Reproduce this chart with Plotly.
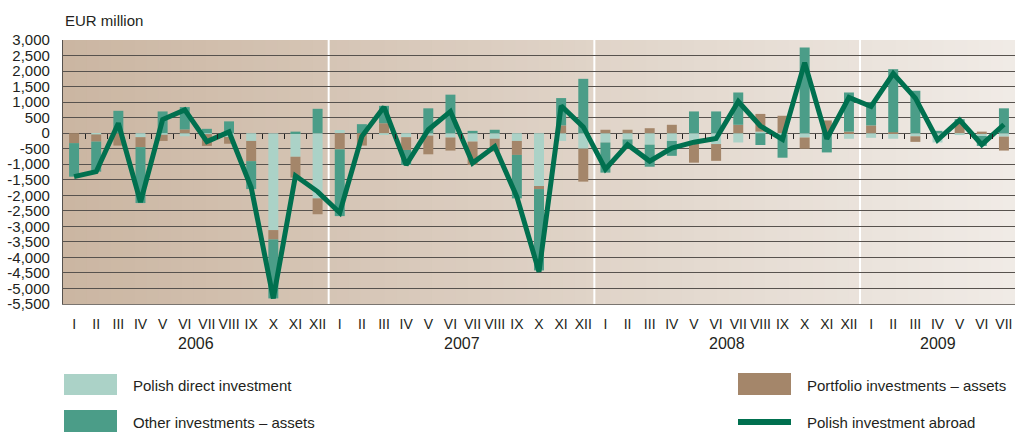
import plotly.graph_objects as go

# ---------------- data (EUR million) ----------------
months = ["I", "II", "III", "IV", "V", "VI", "VII", "VIII", "IX", "X", "XI", "XII"] * 3 + \
         ["I", "II", "III", "IV", "V", "VI", "VII"]
years = ["2006", "2007", "2008", "2009"]
year_center_idx = [5.5, 17.5, 29.5, 39]

direct = [0, -40, 0, -130, -50, -100, -30, -120, -250, -3120, -760, -2100,
          100, 0, -60, -130, -80, -140, -270, -180, -250, -1700, -250, -500,
          -300, -200, -370, -250, -250, -350, -300, 50, -50, -140, 0, -180,
          -150, -180, -100, -300, -60, -90, -110]
portfolio = [-320, -230, -400, -320, -200, 120, -380, -220, -650, -300, -670, -510,
             -520, -400, 320, -410, -600, -420, -750, -410, -450, -100, 250, -1060,
             110, 110, 160, 270, -700, -540, 270, 570, 560, -360, 410, 50,
             250, 30, -180, 0, 330, 50, -450]
other = [-1080, -970, 720, -1800, 700, 720, 140, 380, -900, -1900, 50, 785,
         -2150, 290, 560, -480, 800, 1240, 75, 110, -1400, -2620, 880, 1750,
         -970, -250, -710, -480, 700, 700, 1040, -380, -740, 2760, -620, 1260,
         740, 2030, 1365, 75, 120, -320, 800]
abroad = [-1400, -1240, 320, -2220, 440, 750, -270, 40, -1750, -5320, -1370, -1880,
          -2560, -100, 840, -1020, 110, 700, -960, -430, -2050, -4460, 880, 200,
          -1160, -370, -900, -480, -290, -170, 1020, 230, -200, 2270, -180, 1150,
          860, 1920, 1130, -220, 420, -370, 280]

y_tickvals = [3000, 2500, 2000, 1500, 1000, 500, 0, -500, -1000, -1500, -2000, -2500,
              -3000, -3500, -4000, -4500, -5000, -5500]
y_ticktext = ["3,000", "2,500", "2,000", "1,500", "1,000", "500", "0", "-500", "-1,000",
              "-1,500", "-2,000", "-2,500", "-3,000", "-3,500", "-4,000", "-4,500",
              "-5,000", "-5,500"]
year_bounds = [11.5, 23.5, 35.5]

# ---------------- style ----------------
C_DIRECT = "#abd2c7"
C_PORT = "#a4866a"
C_OTHER = "#4b9d88"
C_LINE = "#00704f"
FONT = "Liberation Sans, Arial, sans-serif"
TXT = "#231f20"

n = len(months)
xs = list(range(n))

fig = go.Figure()
fig.add_trace(go.Bar(x=xs, y=direct, name="Polish direct investment",
                     marker=dict(color=C_DIRECT, line=dict(width=0)), width=0.45))
fig.add_trace(go.Bar(x=xs, y=portfolio, name="Portfolio investments – assets",
                     marker=dict(color=C_PORT, line=dict(width=0)), width=0.45))
fig.add_trace(go.Bar(x=xs, y=other, name="Other investments – assets",
                     marker=dict(color=C_OTHER, line=dict(width=0)), width=0.45))
fig.add_trace(go.Scatter(x=xs, y=abroad, name="Polish investment abroad", mode="lines",
                         line=dict(color=C_LINE, width=5), xaxis="x2"))

W, H = 1015, 432
ML, MR, MT, MB = 63, 0, 40, 128
pw, ph = W - ML - MR, H - MT - MB


def px(xp):
    return (xp - ML) / pw


def py(yp):
    return (H - MB - yp) / ph


shapes = []
# background gradient (plot area)
NS = 80
c0 = (203, 182, 162)
c1 = (240, 235, 230)
for i in range(NS):
    t = i / (NS - 1)
    col = tuple(round(c0[k] + (c1[k] - c0[k]) * t) for k in range(3))
    shapes.append(dict(type="rect", xref="paper", yref="paper", x0=i / NS, x1=(i + 1) / NS + 0.002,
                       y0=0, y1=1, fillcolor="rgb(%d,%d,%d)" % col, line=dict(width=0), layer="below"))
# year separators
for b in year_bounds:
    shapes.append(dict(type="line", xref="x", yref="paper", x0=b, x1=b, y0=0, y1=1,
                       line=dict(color="white", width=2), layer="between"))

# legend (manual)
leg = [
    ("rect", C_DIRECT, 64, 117, 374, 395, "Polish direct investment", 131, 385),
    ("rect", C_OTHER, 64, 117, 410, 432, "Other investments – assets", 131, 422),
    ("rect", C_PORT, 738, 791, 373, 395, "Portfolio investments – assets", 805, 385),
    ("line", C_LINE, 738, 791, 422, 422, "Polish investment abroad", 805, 422),
]
annotations = []
for kind, col, x0, x1, y0, y1, label, tx, ty in leg:
    if kind == "rect":
        shapes.append(dict(type="rect", xref="paper", yref="paper", x0=px(x0), x1=px(x1),
                           y0=py(y1), y1=py(y0), fillcolor=col, line=dict(width=0)))
    else:
        shapes.append(dict(type="line", xref="paper", yref="paper", x0=px(x0), x1=px(x1),
                           y0=py(y0), y1=py(y1), line=dict(color=col, width=6)))
    annotations.append(dict(text=label, xref="paper", yref="paper", x=px(tx), y=py(ty),
                            xanchor="left", yanchor="middle", showarrow=False,
                            font=dict(family=FONT, size=15, color=TXT)))

for yr, c in zip(years, year_center_idx):
    annotations.append(dict(text=yr, xref="x", yref="paper", x=c, y=py(343),
                            xanchor="center", yanchor="middle", showarrow=False,
                            font=dict(family=FONT, size=16, color=TXT)))
annotations.append(dict(text="EUR million", xref="paper", yref="paper", x=0, y=py(21),
                        xanchor="left", yanchor="middle", showarrow=False,
                        font=dict(family=FONT, size=15, color=TXT)))

zero_pos = (0 - y_tickvals[-1]) / (y_tickvals[0] - y_tickvals[-1])
tick_bounds = [i + 0.5 for i in range(n - 1) if (i + 0.5) not in year_bounds]

fig.update_layout(
    width=W, height=H,
    margin=dict(l=ML, r=MR, t=MT, b=MB, autoexpand=False),
    paper_bgcolor="white",
    plot_bgcolor="#ddd0c4",
    barmode="relative",
    bargap=0.5,
    showlegend=False,
    hovermode=False,
    font=dict(family=FONT, size=15, color=TXT),
    xaxis=dict(range=[-0.5, n - 0.5], tickmode="array", tickvals=xs, ticktext=months,
               showgrid=False, zeroline=False, ticks="", ticklabelstandoff=7,
               automargin=False, tickangle=0,
               tickfont=dict(family=FONT, size=14, color=TXT),
               showline=True, linecolor="#7a7570", linewidth=1),
    xaxis2=dict(range=[-0.5, n - 0.5], overlaying="x", anchor="free", position=zero_pos,
                side="bottom", tickmode="array", tickvals=tick_bounds, ticks="outside",
                ticklen=5, tickwidth=1, tickcolor="#222222", showticklabels=False,
                showgrid=False, zeroline=False, showline=False, automargin=False),
    yaxis=dict(range=[y_tickvals[-1], y_tickvals[0]], tickmode="array", tickvals=y_tickvals,
               ticktext=y_ticktext, showgrid=True, gridcolor="#57524e", gridwidth=1.2,
               zeroline=False, showline=True, linecolor="#57524e", linewidth=1.2,
               ticks="", ticklabelstandoff=9, automargin=False,
               tickfont=dict(family=FONT, size=15, color=TXT)),
    shapes=shapes,
    annotations=annotations,
)

fig.write_html("out.html",
               config={"displayModeBar": False},
               post_script="document.body.style.margin='0';document.body.style.overflow='hidden';")
